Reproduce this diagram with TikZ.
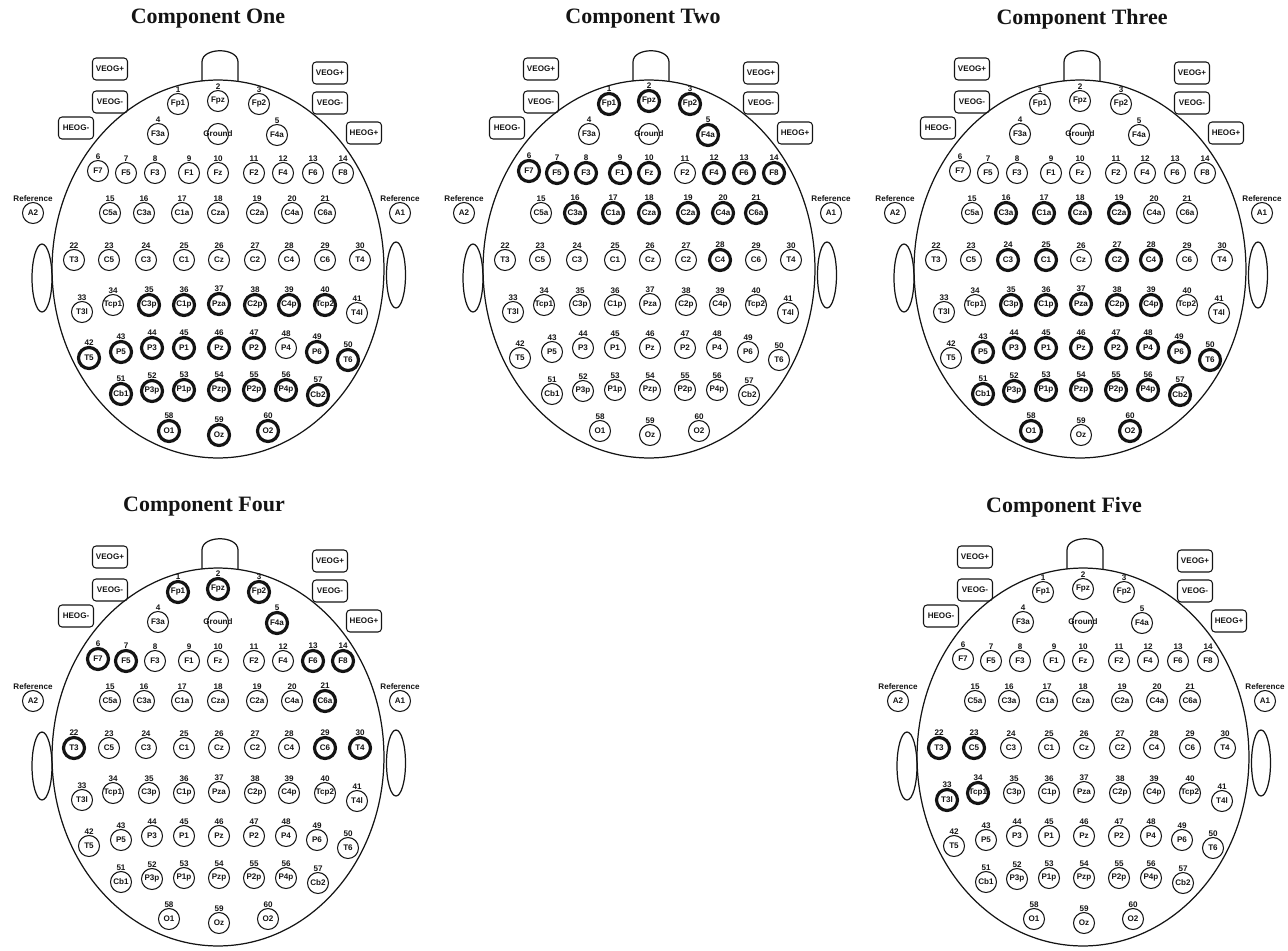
\documentclass[tikz,border=0pt]{standalone}
\usepackage{fontspec}
\setmainfont{Liberation Serif}
\setsansfont{Liberation Sans}
\usetikzlibrary{positioning}
\definecolor{ink}{RGB}{20,20,20}
\newcommand\elecfont{\sffamily\bfseries\fontsize{4.6}{5}\selectfont}
\newcommand\titlefont{\rmfamily\bfseries\fontsize{12.5}{14}\selectfont}
\tikzset{
  electrode/.style={circle, draw=ink, text=ink, minimum size=0.42cm,
                    inner sep=0pt, font=\elecfont, label distance=0.6pt},
  num/.style={font=\elecfont, text=ink, inner sep=0pt},
  eog/.style={rectangle, rounded corners=2pt, draw=ink, line width=0.6pt,
              minimum width=0.7cm, minimum height=0.44cm, inner sep=0pt,
              font=\elecfont, text=ink},
  outline/.style={draw=ink, line width=0.7pt},
  title/.style={font=\titlefont, text=ink},
}

% thick rim when the number is in \hotlist
\makeatletter
\newcommand\setrim[1]{%
  \edef\rim@test{\noexpand\in@{,#1,}{,\hotlist,}}\rim@test
  \ifin@\def\rimwidth{1.8pt}\else\def\rimwidth{0.6pt}\fi}
\makeatother

% number/label/x/y of the 60 sites
\def\electrodes{1/Fp1/178/104, 2/Fpz/218/101, 3/Fp2/259/104,
  4/F3a/158/134, 5/F4a/277/135,
  6/F7/98/171, 7/F5/126/173, 8/F3/155/173, 9/F1/189/173, 10/Fz/218/173,
  11/F2/254/173, 12/F4/283/173, 13/F6/313/173, 14/F8/343/173,
  15/C5a/110/213, 16/C3a/144/213, 17/C1a/182/213, 18/Cza/218/213,
  19/C2a/257/213, 20/C4a/292/213, 21/C6a/325/213,
  22/T3/74/260, 23/C5/109/260, 24/C3/146/260, 25/C1/184/260, 26/Cz/219/260,
  27/C2/255/260, 28/C4/289/260, 29/C6/325/260, 30/T4/360/260,
  33/T3l/82/312, 34/Tcp1/113/305, 35/C3p/149/305, 36/C1p/184/305,
  37/Pza/219/304, 38/C2p/255/305, 39/C4p/289/305, 40/Tcp2/325/305,
  41/T4l/357/313,
  42/T5/89/358, 43/P5/121/352, 44/P3/152/348, 45/P1/184/348, 46/Pz/219/348,
  47/P2/254/348, 48/P4/286/348, 49/P6/317/352, 50/T6/348/360,
  51/Cb1/121/394, 52/P3p/152/391, 53/P1p/184/390, 54/Pzp/219/390,
  55/P2p/254/390, 56/P4p/286/390, 57/Cb2/318/395,
  58/O1/169/431, 59/Oz/219/435, 60/O2/268/431}

% one head: name, shift x, shift y, title x, title, highlighted sites
\newcommand\headmap[6]{%
  \begin{scope}[shift={(#2,#3)}]
    \def\hotlist{#6}
    % title
    \node[title] (#1-title) at (#4,19) {#5};

    % head, nose and ears
    \draw[outline] (218,269) ellipse [x radius=3.32cm, y radius=3.78cm];
    \draw[outline] (202,81) -- (202,62) .. controls (202,47) and (238,47) .. (238,62) -- (238,81);
    \draw[outline] (42,278) ellipse [x radius=0.2cm, y radius=0.68cm];
    \draw[outline] (396,275) ellipse [x radius=0.19cm, y radius=0.66cm];

    % eye channels
    \node[eog] (#1-veogpl) at (110,69) {VEOG+};
    \node[eog] (#1-veogml) at (110,102) {VEOG-};
    \node[eog] (#1-heogm) at (76,128) {HEOG-};
    \node[eog] (#1-veogpr) at (330,73) {VEOG+};
    \node[eog] (#1-veogmr) at (330,103) {VEOG-};
    \node[eog] (#1-heogp) at (364,133) {HEOG+};

    % references
    \node[electrode, line width=0.6pt, label distance=1.5pt,
          label={[num]above:Reference}] (#1-A2) at (33,213) {A2};
    \node[electrode, line width=0.6pt, label distance=1.5pt,
          label={[num]above:Reference}] (#1-A1) at (400,213) {A1};
    \node[electrode, line width=0.6pt, label={[num]center:Ground}]
      (#1-gnd) at (218,134) {};

    % scalp sites
    \foreach \n/\lab/\px/\py in \electrodes {%
      \setrim{\n}%
      \node[electrode, line width=\rimwidth, label={[num]above:\n}]
        (#1-\n) at (\px,\py) {\lab};
    }
  \end{scope}}

\begin{document}
\begin{tikzpicture}[x=0.02cm, y=-0.02cm]
  \useasboundingbox (0,0) rectangle (1288,950);

  % top row
  \headmap{one}{0}{0}{208}{Component One}
    {35,36,37,38,39,40,42,43,44,45,46,47,49,50,51,52,53,54,55,56,57,58,59,60}
  \headmap{two}{431}{0}{212}{Component Two}
    {1,2,3,5,6,7,8,9,10,12,13,14,16,17,18,19,20,21,28}
  \headmap{three}{862}{0}{220}{Component Three}
    {16,17,18,19,24,25,27,28,35,36,37,38,39,43,44,45,46,47,48,49,50,51,52,53,54,55,56,57,58,60}

  % bottom row
  \headmap{four}{0}{488}{204}{Component Four}
    {1,2,3,5,6,7,13,14,21,22,29,30}
  \headmap{five}{865}{488}{199}{Component Five}
    {22,23,33,34}
\end{tikzpicture}
\end{document}
